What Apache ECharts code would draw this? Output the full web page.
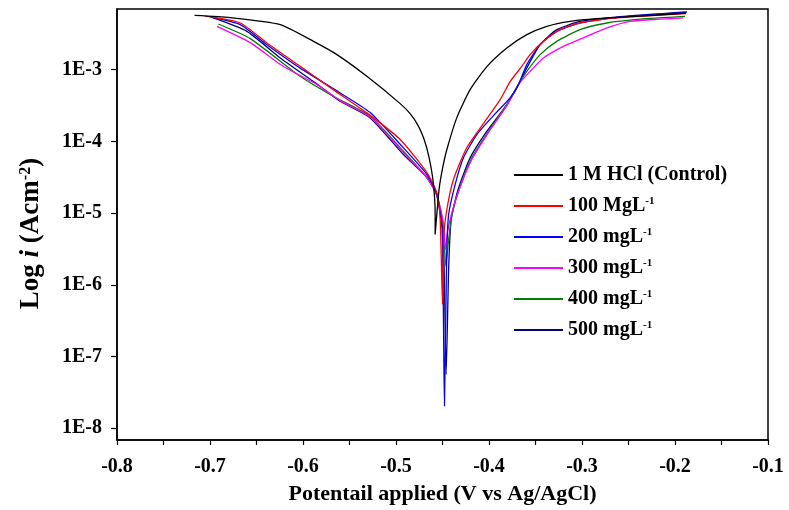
<!doctype html>
<html>
<head>
<meta charset="utf-8">
<style>
html, body { margin: 0; padding: 0; background: #fff; }
#chart-panel { width: 789px; height: 510px; }
</style>
<script src="https://cdn.jsdelivr.net/npm/echarts@6/dist/echarts.min.js"></script>
</head>
<body>
<div id="chart-panel"></div>
<script type="text/javascript">
// potential (V vs Ag/AgCl), log10 of current density (A cm-2)
var controlPts = [
    [-0.7166, -2.244], [-0.6782, -2.276], [-0.6245, -2.373], [-0.5887, -2.606],
    [-0.5635, -2.791], [-0.5310, -3.097], [-0.4955, -3.474], [-0.4848, -3.613],
    [-0.4762, -3.780], [-0.4697, -3.975], [-0.4644, -4.226], [-0.4606, -4.504],
    [-0.4584, -4.810], [-0.4579, -5.019], [-0.4579, -5.298], [-0.4560, -5.000],
    [-0.4535, -4.650], [-0.4500, -4.380], [-0.4453, -4.114], [-0.4346, -3.669],
    [-0.4203, -3.279], [-0.4023, -2.958], [-0.3808, -2.698], [-0.3593, -2.513],
    [-0.3378, -2.397], [-0.3128, -2.327], [-0.2841, -2.290], [-0.2376, -2.255],
    [-0.1881, -2.213]
];
var mg100Pts = [
    [-0.7051, -2.255], [-0.6675, -2.350], [-0.6388, -2.628], [-0.6030, -2.954],
    [-0.5675, -3.279], [-0.5313, -3.603], [-0.4955, -3.975], [-0.4668, -4.435],
    [-0.4561, -4.717], [-0.4525, -5.089], [-0.4500, -6.273], [-0.4489, -5.368],
    [-0.4453, -4.950], [-0.4382, -4.532], [-0.4238, -4.086], [-0.4060, -3.752],
    [-0.3880, -3.418], [-0.3773, -3.167], [-0.3647, -2.954], [-0.3558, -2.791],
    [-0.3415, -2.606], [-0.3235, -2.443], [-0.3020, -2.350], [-0.2590, -2.276],
    [-0.1881, -2.220]
];
var mg200Pts = [
    [-0.6997, -2.269], [-0.6675, -2.373], [-0.6388, -2.652], [-0.6030, -2.979],
    [-0.5600, -3.325], [-0.5278, -3.599], [-0.4920, -4.091], [-0.4668, -4.462],
    [-0.4561, -4.741], [-0.4504, -5.228], [-0.4479, -7.690], [-0.4456, -5.646],
    [-0.4434, -5.019], [-0.4364, -4.602], [-0.4275, -4.230], [-0.4131, -3.905],
    [-0.3952, -3.641], [-0.3773, -3.394], [-0.3684, -3.209], [-0.3593, -2.930],
    [-0.3450, -2.652], [-0.3271, -2.467], [-0.3020, -2.350], [-0.2590, -2.269],
    [-0.1881, -2.206]
];
var mg300Pts = [
    [-0.6925, -2.397], [-0.6567, -2.624], [-0.6213, -2.954], [-0.5850, -3.209],
    [-0.5600, -3.432], [-0.5278, -3.662], [-0.4920, -4.156], [-0.4668, -4.504],
    [-0.4561, -4.755], [-0.4493, -5.117], [-0.4469, -5.507], [-0.4445, -5.256],
    [-0.4396, -4.978], [-0.4321, -4.671], [-0.4185, -4.253], [-0.4006, -3.877],
    [-0.3808, -3.501], [-0.3684, -3.209], [-0.3558, -3.024], [-0.3415, -2.837],
    [-0.3200, -2.675], [-0.2985, -2.558], [-0.2733, -2.419], [-0.2483, -2.327],
    [-0.2161, -2.297], [-0.1910, -2.280]
];
var mg400Pts = [
    [-0.6911, -2.364], [-0.6567, -2.568], [-0.6030, -3.093], [-0.5675, -3.372],
    [-0.5278, -3.650], [-0.4920, -4.138], [-0.4668, -4.504], [-0.4561, -4.741],
    [-0.4493, -5.159], [-0.4464, -5.740], [-0.4434, -5.368], [-0.4396, -5.019],
    [-0.4321, -4.671], [-0.4185, -4.230], [-0.4006, -3.859], [-0.3808, -3.487],
    [-0.3684, -3.209], [-0.3593, -3.024], [-0.3450, -2.791], [-0.3271, -2.606],
    [-0.3020, -2.443], [-0.2733, -2.350], [-0.2376, -2.297], [-0.1892, -2.258]
];
var mg500Pts = [
    [-0.6964, -2.280], [-0.6603, -2.467], [-0.6245, -2.837], [-0.5890, -3.163],
    [-0.5600, -3.442], [-0.5278, -3.673], [-0.4920, -4.184], [-0.4668, -4.504],
    [-0.4561, -4.755], [-0.4493, -5.298], [-0.4461, -7.248], [-0.4434, -5.786],
    [-0.4407, -5.089], [-0.4332, -4.671], [-0.4203, -4.230], [-0.4023, -3.859],
    [-0.3808, -3.487], [-0.3701, -3.255], [-0.3593, -2.976], [-0.3450, -2.652],
    [-0.3271, -2.443], [-0.3020, -2.329], [-0.2590, -2.262], [-0.1870, -2.196]
];

var seriesNames = ['1 M HCl (Control)', '100 MgL-1', '200 mgL-1', '300 mgL-1', '400 mgL-1', '500 mgL-1'];
var seriesPts = [controlPts, mg100Pts, mg200Pts, mg300Pts, mg400Pts, mg500Pts];
var seriesColors = ['#000000', '#ff0000', '#0000ff', '#ff00ff', '#008000', '#000080'];

var xTicks = [-0.8, -0.75, -0.7, -0.65, -0.6, -0.55, -0.5, -0.45, -0.4, -0.35, -0.3, -0.25, -0.2, -0.15, -0.1];
var xLabels = [-0.8, -0.7, -0.6, -0.5, -0.4, -0.3, -0.2, -0.1];
var yLabels = [-8, -7, -6, -5, -4, -3];

var font = 'Liberation Serif';
var myChart = echarts.init(document.getElementById('chart-panel'));

var series = [];
for (var n = 0; n < seriesNames.length; n++) {
    series.push({
        name: seriesNames[n],
        type: 'line',
        data: seriesPts[n],
        showSymbol: false,
        symbol: 'none',
        smooth: 0.2,
        lineStyle: { color: seriesColors[n], width: 1.3 },
        itemStyle: { color: seriesColors[n] },
        z: 10 - n
    });
}

var option = {
    animation: false,
    backgroundColor: '#fff',
    grid: {
        left: 117, right: 21, top: 9, bottom: 69,
        show: true, borderColor: '#000', borderWidth: 1.5
    },
    legend: {
        orient: 'vertical',
        left: 514,
        top: 165,
        padding: 0,
        icon: 'rect',
        itemWidth: 49,
        itemHeight: 2,
        itemGap: 11,
        data: seriesNames,
        formatter: function (name) {
            var k = name.indexOf('L-1');
            if (k < 0) return name;
            return name.slice(0, k + 1) + '{sup|-1}';
        },
        textStyle: {
            fontFamily: font, fontWeight: 'bold', fontSize: 20, color: '#000', lineHeight: 20,
            rich: {
                sup: { fontFamily: font, fontWeight: 'bold', fontSize: 11, verticalAlign: 'top', lineHeight: 20 }
            }
        }
    },
    xAxis: {
        type: 'value',
        min: -0.8,
        max: -0.1,
        interval: 0.1,
        name: 'Potentail applied (V vs Ag/AgCl)',
        nameLocation: 'middle',
        nameGap: 43,
        nameTextStyle: { fontFamily: font, fontWeight: 'bold', fontSize: 22, color: '#000' },
        axisLine: { show: true, lineStyle: { color: '#000', width: 1.5 } },
        axisTick: { show: true, length: 5, customValues: xTicks, lineStyle: { color: '#000', width: 1.2 } },
        axisLabel: {
            customValues: xLabels,
            margin: 17,
            fontFamily: font, fontWeight: 'bold', fontSize: 20, color: '#000',
            formatter: function (v) { return v.toFixed(1); }
        },
        splitLine: { show: false }
    },
    yAxis: {
        type: 'value',
        min: -8.163,
        max: -2.155,
        name: 'Log {it|i} (Acm{sup|-2})',
        nameLocation: 'middle',
        nameRotate: 90,
        nameGap: 72,
        nameTextStyle: {
            fontFamily: font, fontWeight: 'bold', fontSize: 27, color: '#000',
            padding: [0, 18, 0, 0],
            rich: {
                it: { fontFamily: font, fontWeight: 'bold', fontStyle: 'italic', fontSize: 27 },
                sup: { fontFamily: font, fontWeight: 'bold', fontSize: 16, verticalAlign: 'top' }
            }
        },
        axisLine: { show: true, lineStyle: { color: '#000', width: 1.5 } },
        axisTick: { show: true, length: 6, customValues: yLabels, lineStyle: { color: '#000', width: 1.2 } },
        axisLabel: {
            customValues: yLabels,
            margin: 15,
            fontFamily: font, fontWeight: 'bold', fontSize: 20, color: '#000',
            formatter: function (v) { return '1E' + Math.round(v); }
        },
        splitLine: { show: false }
    },
    series: series
};
myChart.setOption(option);
</script>
</body>
</html>
